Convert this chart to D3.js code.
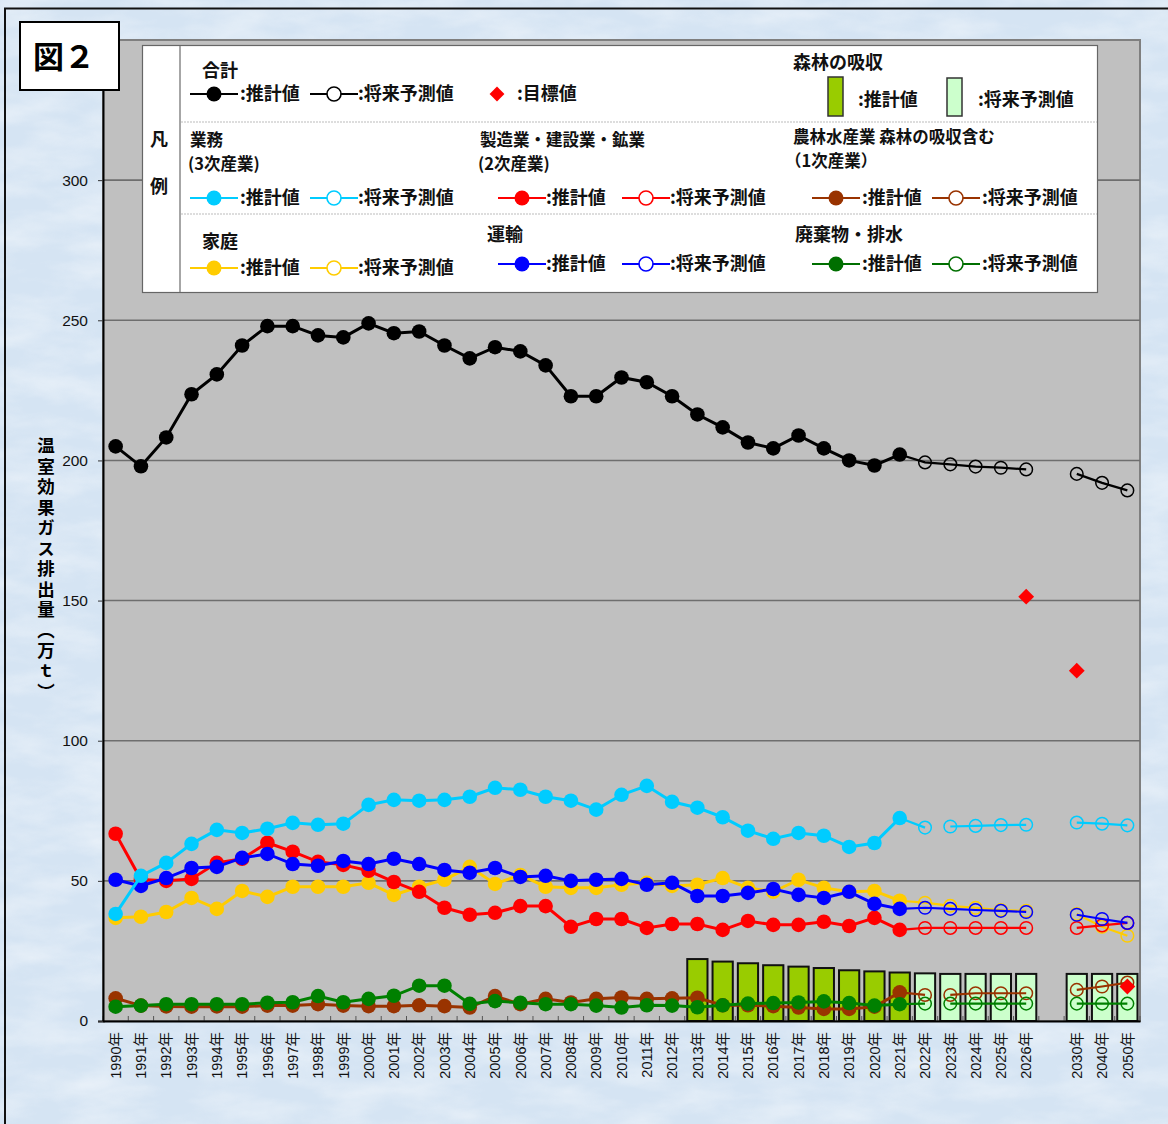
<!DOCTYPE html>
<html><head><meta charset="utf-8">
<script src="https://cdn.jsdelivr.net/npm/d3@7"></script>
<style>
body{margin:0;background:#d9e6f3;}
text{font-family:"Noto Sans CJK JP","Noto Sans",sans-serif;}
.num{font-family:"Liberation Sans",Arial,"Noto Sans CJK JP",sans-serif;}
</style>
</head><body>
<svg id="c" width="1168" height="1124"></svg>
<script>
// ---------------- DATA ----------------
const categories = ["1990年","1991年","1992年","1993年","1994年","1995年","1996年","1997年","1998年","1999年",
  "2000年","2001年","2002年","2003年","2004年","2005年","2006年","2007年","2008年","2009年",
  "2010年","2011年","2012年","2013年","2014年","2015年","2016年","2017年","2018年","2019年",
  "2020年","2021年","2022年","2023年","2024年","2025年","2026年","","2030年","2040年","2050年"];
const actualCats = categories.slice(0, 32);            // 1990-2021
const forecastCats = ["2022年","2023年","2024年","2025年","2026年","2030年","2040年","2050年"];
const yTicks = [0, 50, 100, 150, 200, 250, 300];

// 合計
const totalActual = [205, 197.9, 208.2, 223.6, 230.7, 241, 247.9, 247.9, 244.6, 243.9,
  248.9, 245.4, 246, 241, 236.4, 240.4, 238.9, 233.9, 222.9, 222.9,
  229.6, 227.9, 222.9, 216.4, 211.8, 206.4, 204.3, 208.9, 204.3, 200, 198.2, 202.1];
const totalForecast = [199.3, 198.6, 197.8, 197.4, 196.8, 195.2, 192, 189.3];
// 業務（3次産業）
const gyomuActual = [38.2, 51.8, 56.4, 63.2, 68.2, 67.1, 68.6, 70.7, 70, 70.4,
  77.1, 78.9, 78.6, 78.9, 80, 83.2, 82.5, 80, 78.6, 75.4,
  80.7, 83.9, 78.2, 76.1, 72.7, 67.9, 65, 67.1, 66.1, 62.1, 63.5, 72.4];
const gyomuForecast = [69, 69.4, 69.6, 69.9, 70, 70.8, 70.4, 69.8];
// 製造業・建設業・鉱業（2次産業）
const seizoActual = [66.8, 50.5, 50, 50.7, 56.4, 57.9, 63.6, 60.4, 56.8, 55.7,
  53.6, 49.6, 46.1, 40.4, 37.9, 38.6, 41, 41, 33.6, 36.4,
  36.4, 33.2, 34.6, 34.6, 32.5, 35.7, 34.3, 34.3, 35.4, 33.9, 36.8, 32.5];
const seizoForecast = [33.2, 33.2, 33.2, 33.2, 33.2, 33.2, 34.1, 35];
// 農林水産業（1次産業）
const noringyoActual = [8.1, 5.5, 5.2, 5.1, 5.2, 5.1, 5.5, 5.5, 6, 5.5,
  5.3, 5.3, 5.6, 5.3, 4.8, 8.9, 6, 7.9, 6.6, 7.9,
  8.4, 7.9, 8.1, 8.3, 5.6, 5.6, 5.3, 4.8, 4.3, 4.3, 5.1, 10.2];
const noringyoForecast = [9.3, 9.3, 9.9, 9.9, 9.9, 11.1, 12.3, 13.7];
// 家庭
const kateiActual = [36.8, 37.2, 38.9, 43.9, 40, 46.4, 44.3, 47.9, 47.9, 47.9,
  49.3, 45, 47.9, 50.4, 55, 48.9, 52.1, 47.9, 47.5, 47.5,
  48.6, 49.3, 48.2, 48.6, 51, 47.5, 46.1, 50.4, 47.5, 46.1, 46.4, 42.9];
const kateiForecast = [42.2, 41.1, 40.4, 39.6, 39.3, 38.2, 33.6, 30.4];
// 運輸
const unyuActual = [50.4, 48.2, 51, 54.6, 55, 58.2, 59.6, 56, 55.4, 57.1,
  56, 57.9, 56, 53.9, 52.9, 54.6, 51.4, 51.8, 50, 50.4,
  50.7, 48.6, 49.3, 44.6, 44.6, 45.7, 47.1, 45, 43.9, 46.1, 41.8, 40];
const unyuForecast = [40.4, 40, 39.6, 39.3, 38.9, 37.9, 36.4, 35];
// 廃棄物・排水
const haikiActual = [5.1, 5.5, 6, 6, 6, 6, 6.5, 6.7, 8.9, 6.7,
  7.9, 9, 12.6, 12.6, 6.1, 7.1, 6.5, 6, 6, 5.5,
  4.8, 5.6, 5.5, 4.9, 5.6, 6.2, 6.4, 6.6, 7, 6.4, 5.5, 6];
const haikiForecast = [6.2, 6.2, 6.2, 6.2, 6.2, 6.2, 6.2, 6.2];
// 森林の吸収
const forestActualCats = ["2013年","2014年","2015年","2016年","2017年","2018年","2019年","2020年","2021年"];
const forestActual = [22.1, 21.2, 20.6, 19.9, 19.4, 18.9, 18.1, 17.7, 17.3];
const forestForecast = [17, 16.8, 16.8, 16.8, 16.8, 16.8, 16.8, 16.8];
// 目標値
const targetCats = ["2026年","2030年","2050年"];
const targetValues = [151.4, 125, 12.3];

// ---------------- SETUP ----------------
const W = 1168, H = 1124;
const pL = 103, pR = 1140, pT = 40, pB = 1021;
const svg = d3.select("#c");

// background texture (subtle marble)
const defs = svg.append("defs");
const flt = defs.append("filter").attr("id","tex").attr("x",0).attr("y",0).attr("width","100%").attr("height","100%");
flt.append("feTurbulence").attr("type","fractalNoise").attr("baseFrequency","0.015 0.04").attr("numOctaves",4).attr("seed",11);
flt.append("feColorMatrix").attr("type","matrix")
  .attr("values","0 0 0 0 1  0 0 0 0 1  0 0 0 0 1  1.3 0 0 0 -0.45");
svg.append("rect").attr("width",W).attr("height",H).attr("fill","#d5e4f3");
svg.append("rect").attr("width",W).attr("height",H).attr("fill","#fff").attr("filter","url(#tex)").attr("opacity",0.55);

// outer frame
svg.append("path").attr("d",`M5,${H+5} V8.5 H${W+5}`).attr("fill","none").attr("stroke","#111").attr("stroke-width",2);

const x = d3.scaleBand().domain(categories).range([pL, pR]).padding(0);
const y = d3.scaleLinear().domain([0, 350]).range([pB, pT]);
const cx = c => x(c) + x.bandwidth()/2;

// plot area
svg.append("rect").attr("x",pL).attr("y",pT).attr("width",pR-pL).attr("height",pB-pT)
  .attr("fill","#c0c0c0").attr("stroke","#7f7f7f").attr("stroke-width",2);

// gridlines
svg.append("g").selectAll("line").data(yTicks.filter(d=>d>0)).join("line")
  .attr("x1",pL).attr("x2",pR).attr("y1",d=>y(d)).attr("y2",d=>y(d))
  .attr("stroke","#6e6e6e").attr("stroke-width",1.6);

// x boundary ticks (inside)
svg.append("g").selectAll("line").data(d3.range(categories.length+1)).join("line")
  .attr("x1",i=>pL + i*x.step()).attr("x2",i=>pL + i*x.step())
  .attr("y1",pB).attr("y2",pB-5).attr("stroke","#555").attr("stroke-width",1);

// bars 森林の吸収
const barW = x.bandwidth()*0.8;
const bars = forestActualCats.map((c,i)=>({c, v:forestActual[i], fc:"#99cc00"}))
  .concat(forecastCats.map((c,i)=>({c, v:forestForecast[i], fc:"#ccffcc"})));
svg.append("g").selectAll("rect").data(bars).join("rect")
  .attr("x",d=>cx(d.c)-barW/2).attr("width",barW)
  .attr("y",d=>y(d.v)).attr("height",d=>y(0)-y(d.v))
  .attr("fill",d=>d.fc).attr("stroke","#111").attr("stroke-width",2);

// series
const seriesList = [
  {name:"農林水産業", color:"#993300", actual:noringyoActual, forecast:noringyoForecast, breaks:["2023年","2030年"]},
  {name:"廃棄物・排水", color:"#008000", actual:haikiActual, forecast:haikiForecast, breaks:["2023年","2030年"]},
  {name:"家庭", color:"#ffcc00", actual:kateiActual, forecast:kateiForecast, breaks:["2030年"]},
  {name:"製造業", color:"#ff0000", actual:seizoActual, forecast:seizoForecast, breaks:["2030年"]},
  {name:"運輸", color:"#0000ff", actual:unyuActual, forecast:unyuForecast, breaks:["2030年"]},
  {name:"業務", color:"#00ccff", actual:gyomuActual, forecast:gyomuForecast, breaks:["2023年","2030年"]},
  {name:"合計", color:"#000000", actual:totalActual, forecast:totalForecast, breaks:["2030年"]}
];
const line = d3.line().x(d=>cx(d.c)).y(d=>y(d.v));

function segmentsOf(s){
  const pts = [{c:actualCats[actualCats.length-1], v:s.actual[s.actual.length-1]}]
    .concat(forecastCats.map((c,i)=>({c, v:s.forecast[i]})));
  const segs = []; let cur = [];
  pts.forEach(p=>{ if (s.breaks.includes(p.c) && cur.length){ segs.push(cur); cur = []; } cur.push(p); });
  segs.push(cur);
  return segs;
}

seriesList.forEach(s=>{
  const g = svg.append("g");
  const act = actualCats.map((c,i)=>({c, v:s.actual[i]}));
  g.selectAll("path.f").data(segmentsOf(s)).join("path").attr("class","f")
    .attr("d",line).attr("fill","none").attr("stroke",s.color).attr("stroke-width",2.2);
  g.append("path").datum(act).attr("d",line).attr("fill","none").attr("stroke",s.color).attr("stroke-width",3);
  g.selectAll("circle.o").data(forecastCats.map((c,i)=>({c, v:s.forecast[i]}))).join("circle").attr("class","o")
    .attr("cx",d=>cx(d.c)).attr("cy",d=>y(d.v)).attr("r",6.3)
    .attr("fill","none").attr("stroke",s.color).attr("stroke-width",1.5);
  g.selectAll("circle.a").data(act).join("circle").attr("class","a")
    .attr("cx",d=>cx(d.c)).attr("cy",d=>y(d.v)).attr("r",7.3).attr("fill",s.color);
});

// targets
svg.append("g").selectAll("path").data(targetCats.map((c,i)=>({c, v:targetValues[i]}))).join("path")
  .attr("transform",d=>`translate(${cx(d.c)},${y(d.v)}) rotate(45)`)
  .attr("d",d3.symbol().type(d3.symbolSquare).size(125)).attr("fill","#ff0000");

// axes
const yAxis = svg.append("g").attr("transform",`translate(${pL},0)`)
  .call(d3.axisLeft(y).tickValues(yTicks).tickSize(5).tickPadding(10));
yAxis.select(".domain").attr("stroke","#000").attr("stroke-width",2);
yAxis.selectAll(".tick line").attr("stroke","#333");
yAxis.selectAll("text").attr("class","num").attr("font-size",15.5).attr("fill","#111");

const xAxis = svg.append("g").attr("transform",`translate(0,${pB})`)
  .call(d3.axisBottom(x).tickSize(0).tickFormat(d=>d));
xAxis.select(".domain").attr("stroke","#000").attr("stroke-width",2);
xAxis.selectAll("text").attr("class","num").attr("font-size",14.5).attr("fill","#111")
  .attr("transform","rotate(-90)").attr("text-anchor","end").attr("x",-11).attr("y",0).attr("dy","0.36em");

// y-axis title (vertical)
svg.append("text").text("温室効果ガス排出量（万ｔ）")
  .attr("x",46).attr("y",437)
  .attr("style","writing-mode: vertical-rl; text-orientation: upright; font-weight:700; font-size:17.5px; letter-spacing:3px;")
  .attr("fill","#000");

// title box
svg.append("rect").attr("x",20).attr("y",22).attr("width",99).attr("height",68)
  .attr("fill","#fff").attr("stroke","#000").attr("stroke-width",2);
svg.append("text").text("図２").attr("x",64).attr("y",68).attr("text-anchor","middle")
  .attr("font-size",31).attr("font-weight",700).attr("fill","#000");

// ---------------- LEGEND ----------------
const lg = svg.append("g");
lg.append("rect").attr("x",142.5).attr("y",45.5).attr("width",955).attr("height",247)
  .attr("fill","#fff").attr("stroke","#666").attr("stroke-width",1.2);
lg.append("line").attr("x1",180).attr("x2",180).attr("y1",46).attr("y2",292).attr("stroke","#888").attr("stroke-width",1.5);
[122, 214].forEach(yy=>lg.append("line").attr("x1",181).attr("x2",1097).attr("y1",yy).attr("y2",yy)
  .attr("stroke","#bbb").attr("stroke-width",1.2).attr("stroke-dasharray","2,1"));
const lt = (t, xx, yy, size=18) => lg.append("text").text(t).attr("x",xx).attr("y",yy)
  .attr("dy","0.36em").attr("font-size",size).attr("font-weight",700).attr("fill","#111");
lt("凡",150,140); lt("例",150,187);

function sym(x0, yy, color, filled){
  lg.append("line").attr("x1",x0).attr("x2",x0+48).attr("y1",yy).attr("y2",yy).attr("stroke",color).attr("stroke-width",2);
  if (filled) lg.append("circle").attr("cx",x0+24).attr("cy",yy).attr("r",7.5).attr("fill",color);
  else lg.append("circle").attr("cx",x0+24).attr("cy",yy).attr("r",7).attr("fill","#fff").attr("stroke",color).attr("stroke-width",1.6);
}
const legendItems = [
  {title:["合計"], tx:202, ty:[71], color:"#000000", sx:190, sy:94, ox:310, tx1:240, tx2:358},
  {title:["業務","(3次産業)"], tx:190, ty:[140,164], color:"#00ccff", sx:190, sy:198, ox:310, tx1:240, tx2:358},
  {title:["製造業・建設業・鉱業","(2次産業)"], tx:480, ty:[140,164], color:"#ff0000", sx:498, sy:198, ox:622, tx1:546, tx2:670},
  {title:["農林水産業 森林の吸収含む","（1次産業）"], tx:793, ty:[137,161], color:"#993300", sx:812, sy:198, ox:932, tx1:862, tx2:982},
  {title:["家庭"], tx:202, ty:[242], color:"#ffcc00", sx:190, sy:268, ox:310, tx1:240, tx2:358},
  {title:["運輸"], tx:487, ty:[235], color:"#0000ff", sx:498, sy:264, ox:622, tx1:546, tx2:670},
  {title:["廃棄物・排水"], tx:795, ty:[235], color:"#006f00", sx:812, sy:264, ox:932, tx1:862, tx2:982}
];
legendItems.forEach(it=>{
  const fs = it.title.length > 1 ? 16.5 : 18;
  it.title.forEach((t,i)=>lt(t, it.tx - (i>0 && t.startsWith("（") ? 8 : (i>0?2:0)), it.ty[i], fs));
  sym(it.sx, it.sy, it.color, true); lt(":推計値", it.tx1, it.sy);
  sym(it.ox, it.sy, it.color, false); lt(":将来予測値", it.tx2, it.sy);
});
// target legend
lg.append("path").attr("transform","translate(497,94) rotate(45)")
  .attr("d",d3.symbol().type(d3.symbolSquare).size(110)).attr("fill","#ff0000");
lt(":目標値", 517, 94);
// forest legend
lt("森林の吸収", 793, 63);
lg.append("rect").attr("x",828).attr("y",77).attr("width",15).attr("height",39).attr("fill","#99cc00").attr("stroke","#333").attr("stroke-width",1.5);
lt(":推計値", 858, 100);
lg.append("rect").attr("x",947).attr("y",78).attr("width",15).attr("height",38).attr("fill","#ccffcc").attr("stroke","#333").attr("stroke-width",1.5);
lt(":将来予測値", 978, 100);
</script>
</body></html>
